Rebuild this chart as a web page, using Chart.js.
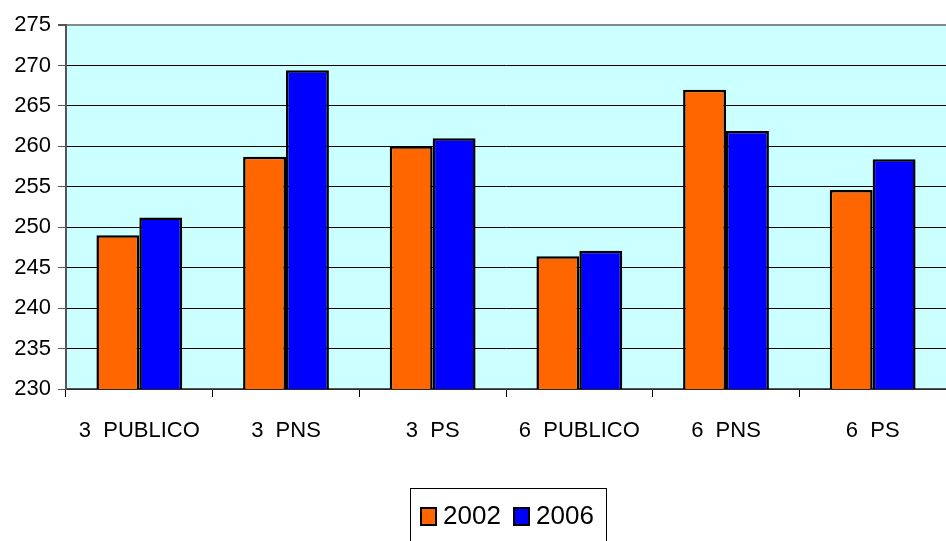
<!DOCTYPE html>
<html>
<head>
<meta charset="utf-8">
<script src="https://cdn.jsdelivr.net/npm/chart.js@4"></script>
<style>
  html, body { margin: 0; padding: 0; background: #fff; }
  #wrap { width: 946px; height: 541px; }
</style>
</head>
<body>
<div id="wrap"><canvas id="grafica" width="946" height="541"></canvas></div>
<script>
const categorias = ['3  PUBLICO', '3  PNS', '3  PS', '6  PUBLICO', '6  PNS', '6  PS'];
const valores2002 = [249.0, 258.7, 260.0, 246.4, 267.0, 254.6];
const valores2006 = [251.2, 269.4, 261.0, 247.1, 261.9, 258.4];
const ejeY = { min: 230, max: 275, paso: 5 };

const fuente = 'Liberation Sans, Arial';

// fondo celeste del area de trazado y leyenda con marco
const fondoPlot = {
    id: 'fondoPlot',
    beforeDraw(chart){
        const a = chart.chartArea;
        const ctx = chart.ctx;
        ctx.save();
        ctx.fillStyle = '#ccffff';
        ctx.fillRect(a.left, a.top, a.right - a.left, a.bottom - a.top);
        ctx.restore();
    },
    afterDraw(chart){
        const ctx = chart.ctx;
        ctx.save();
        ctx.strokeStyle = '#000';
        ctx.lineWidth = 1;
        ctx.strokeRect(410.5, 488.5, 196, 60);

        ctx.font = '26px ' + fuente;
        ctx.textBaseline = 'middle';
        let x = 421;
        const y = 516;
        chart.data.datasets.forEach(ds => {
            ctx.fillStyle = ds.backgroundColor;
            ctx.fillRect(x, y - 8, 15, 17);
            ctx.lineWidth = 2;
            ctx.strokeStyle = '#000';
            ctx.strokeRect(x, y - 8, 15, 17);
            ctx.fillStyle = '#000';
            ctx.fillText(ds.label, x + 22, y + 1);
            x += 93;
        });
        ctx.restore();
    }
};

new Chart(document.getElementById('grafica'), {
    type: 'bar',
    data: {
        labels: categorias,
        datasets: [{
            label: '2002',
            data: valores2002,
            backgroundColor: '#ff6600',
            borderColor: '#000',
            borderWidth: 2.5,
            borderSkipped: false
        }, {
            label: '2006',
            data: valores2006,
            backgroundColor: '#0000ff',
            borderColor: '#000',
            borderWidth: 2.5,
            borderSkipped: false
        }]
    },
    options: {
        responsive: false,
        animation: false,
        layout: { padding: { top: 25, right: 0, left: 0, bottom: 0 } },
        datasets: { bar: { categoryPercentage: 0.585, barPercentage: 1.0 } },
        plugins: {
            tooltip: { enabled: false },
            legend: { display: false }
        },
        scales: {
            x: {
                offset: true,
                grid: {
                    offset: true,
                    drawOnChartArea: false,
                    drawTicks: true,
                    tickLength: 8,
                    color: '#000'
                },
                border: { color: '#555', width: 1.5 },
                ticks: {
                    color: '#000',
                    padding: 21,
                    maxRotation: 0,
                    autoSkip: false,
                    font: { family: fuente, size: 22 }
                },
                afterFit(s){ s.height = 152; }
            },
            y: {
                min: ejeY.min,
                max: ejeY.max,
                ticks: {
                    stepSize: ejeY.paso,
                    color: '#000',
                    padding: 7,
                    font: { family: fuente, size: 22 }
                },
                grid: {
                    color: ctx => ctx.tick && ctx.tick.value === ejeY.max ? '#888' : '#000',
                    lineWidth: ctx => ctx.tick && ctx.tick.value === ejeY.max ? 2 : 1,
                    tickLength: 8,
                    tickColor: '#555'
                },
                border: { color: '#555', width: 2 },
                afterFit(s){ s.width = 66; }
            }
        }
    },
    plugins: [fondoPlot]
});
</script>
</body>
</html>
